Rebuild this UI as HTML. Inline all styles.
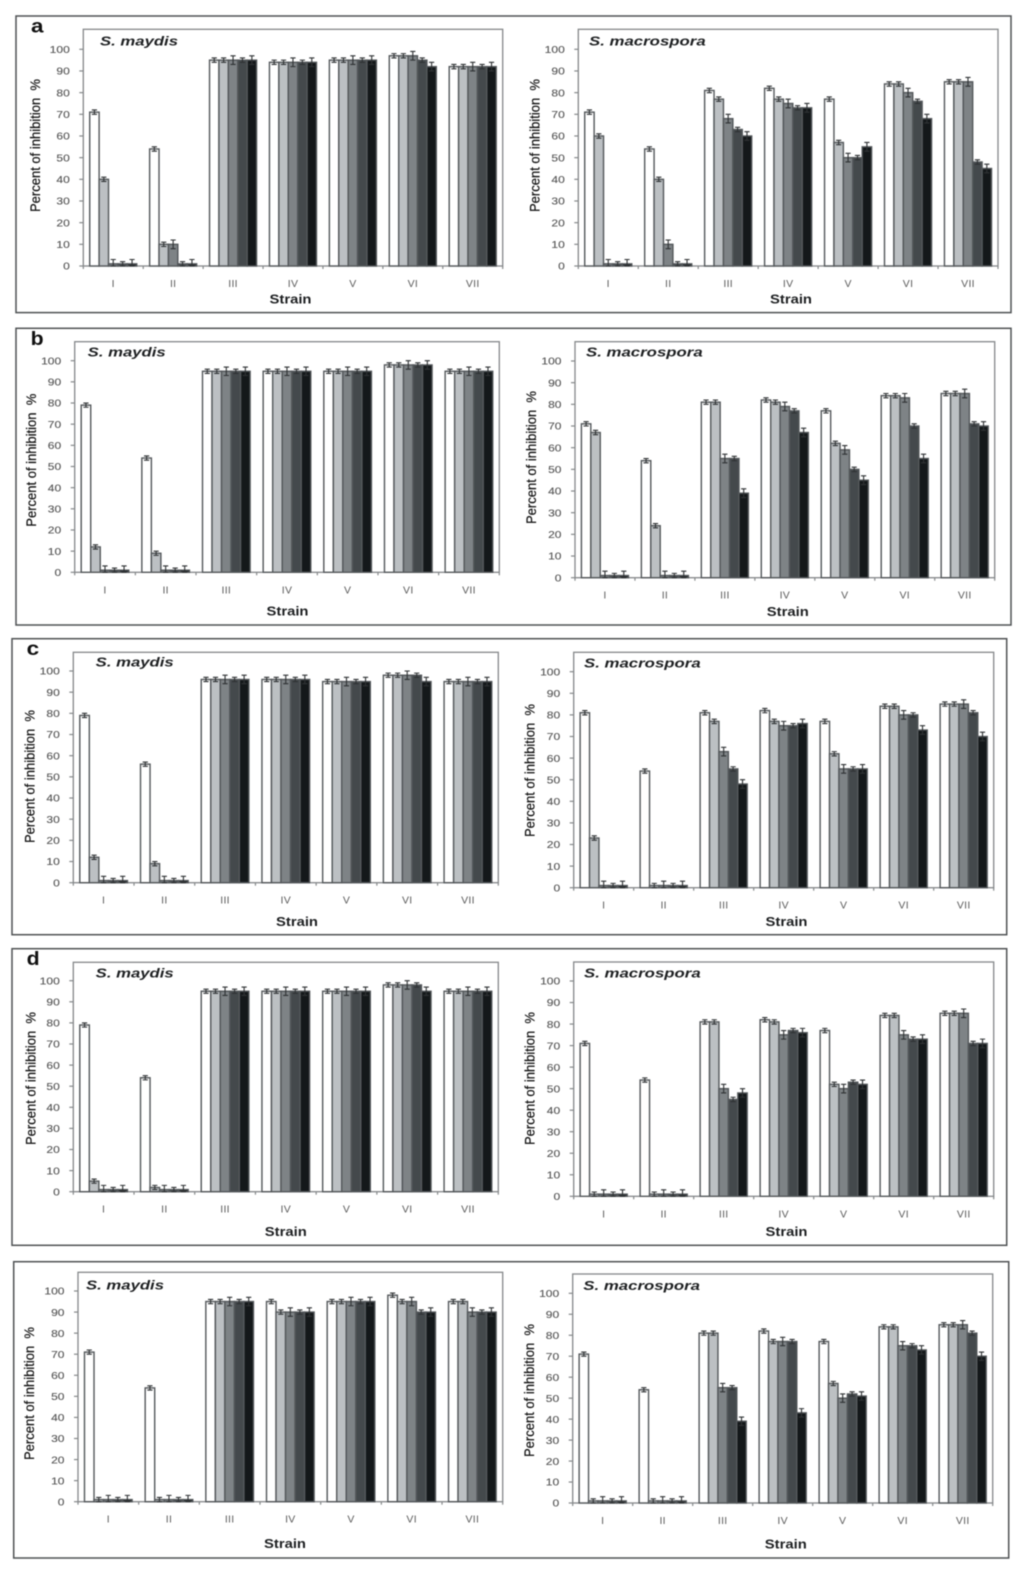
<!DOCTYPE html>
<html lang="en">
<head>
<meta charset="utf-8">
<title>Percent of inhibition by strain</title>
<style>
html,body{margin:0;padding:0;background:#fff}
#figure{display:block;width:1024px;height:1571px;filter:blur(.45px);font-family:"Liberation Sans",sans-serif}
.frame{fill:#fff;stroke:#4f5254;stroke-width:1.5}
.plot{fill:#fff;stroke:#85888a;stroke-width:1.3}
.letter{font-size:19px;font-weight:bold;fill:#111}
.title{font-size:13px;font-weight:bold;font-style:italic;fill:#1e2022}
.ytitle{font-size:14px;fill:#111;stroke:#111;stroke-width:.2;white-space:pre}
.xtitle{font-size:12.5px;font-weight:bold;fill:#1e2022;text-anchor:middle}
.ytick{font-size:10.5px;fill:#555;stroke:#555;stroke-width:.12;text-anchor:end}
.xtick{font-size:10.5px;fill:#5c5c5c;text-anchor:middle;letter-spacing:.3px}
.tickmark{stroke:#85888a;stroke-width:1.2}
.bar{stroke:#54585b;stroke-width:1.4}
.err{stroke:#2f3234;stroke-width:1.1;fill:none}
</style>
</head>
<body>
<svg id="figure" xmlns="http://www.w3.org/2000/svg" width="1024" height="1571" viewBox="0 0 1024 1571">

<g>
  <rect class="frame" x="16" y="16" width="995" height="296.6"/>
  <text class="letter" x="31" y="32.7" textLength="12.5" lengthAdjust="spacingAndGlyphs">a</text>
  <g>
    <rect class="plot" x="83.3" y="29.3" width="419.4" height="236.7"/>
    <g id="marks-a-maydis"></g>
    <text class="title" x="100" y="45.3" textLength="78" lengthAdjust="spacingAndGlyphs">S. maydis</text>
    <text class="ytitle" transform="translate(40,212) rotate(-90)" textLength="133" lengthAdjust="spacingAndGlyphs">Percent of inhibition  %</text>
    <text class="xtitle" x="290.5" y="303.7" textLength="42" lengthAdjust="spacingAndGlyphs">Strain</text>
  </g>
  <g>
    <rect class="plot" x="578.3" y="29.3" width="419.7" height="236.7"/>
    <g id="marks-a-macrospora"></g>
    <text class="title" x="589" y="45.3" textLength="116.7" lengthAdjust="spacingAndGlyphs">S. macrospora</text>
    <text class="ytitle" transform="translate(539.3,212) rotate(-90)" textLength="133" lengthAdjust="spacingAndGlyphs">Percent of inhibition  %</text>
    <text class="xtitle" x="791" y="303.7" textLength="42" lengthAdjust="spacingAndGlyphs">Strain</text>
  </g>
</g>

<g>
  <rect class="frame" x="16" y="328.3" width="995" height="296.7"/>
  <text class="letter" x="30.7" y="345" textLength="13" lengthAdjust="spacingAndGlyphs">b</text>
  <g>
    <rect class="plot" x="74.7" y="341.7" width="424.6" height="230.6"/>
    <g id="marks-b-maydis"></g>
    <text class="title" x="87.7" y="356.7" textLength="78" lengthAdjust="spacingAndGlyphs">S. maydis</text>
    <text class="ytitle" transform="translate(36,526.7) rotate(-90)" textLength="133" lengthAdjust="spacingAndGlyphs">Percent of inhibition  %</text>
    <text class="xtitle" x="287.5" y="615.3" textLength="42" lengthAdjust="spacingAndGlyphs">Strain</text>
  </g>
  <g>
    <rect class="plot" x="575" y="341.7" width="419.7" height="236"/>
    <g id="marks-b-macrospora"></g>
    <text class="title" x="586" y="356.7" textLength="116.7" lengthAdjust="spacingAndGlyphs">S. macrospora</text>
    <text class="ytitle" transform="translate(536,524) rotate(-90)" textLength="133" lengthAdjust="spacingAndGlyphs">Percent of inhibition  %</text>
    <text class="xtitle" x="787.8" y="616" textLength="42" lengthAdjust="spacingAndGlyphs">Strain</text>
  </g>
</g>

<g>
  <rect class="frame" x="12" y="638.7" width="994.7" height="296"/>
  <text class="letter" x="26.7" y="655" textLength="12.5" lengthAdjust="spacingAndGlyphs">c</text>
  <g>
    <rect class="plot" x="73.3" y="652.3" width="425" height="230.4"/>
    <g id="marks-c-maydis"></g>
    <text class="title" x="95.7" y="666.7" textLength="78" lengthAdjust="spacingAndGlyphs">S. maydis</text>
    <text class="ytitle" transform="translate(34.5,843) rotate(-90)" textLength="133" lengthAdjust="spacingAndGlyphs">Percent of inhibition  %</text>
    <text class="xtitle" x="297" y="926" textLength="42" lengthAdjust="spacingAndGlyphs">Strain</text>
  </g>
  <g>
    <rect class="plot" x="573.7" y="652.3" width="420" height="235.4"/>
    <g id="marks-c-macrospora"></g>
    <text class="title" x="584" y="667.7" textLength="116.7" lengthAdjust="spacingAndGlyphs">S. macrospora</text>
    <text class="ytitle" transform="translate(534.5,837) rotate(-90)" textLength="133" lengthAdjust="spacingAndGlyphs">Percent of inhibition  %</text>
    <text class="xtitle" x="786.5" y="926" textLength="42" lengthAdjust="spacingAndGlyphs">Strain</text>
  </g>
</g>

<g>
  <rect class="frame" x="12" y="948.7" width="994.7" height="296.6"/>
  <text class="letter" x="26.7" y="965" textLength="13" lengthAdjust="spacingAndGlyphs">d</text>
  <g>
    <rect class="plot" x="73.3" y="962.3" width="425" height="229.4"/>
    <g id="marks-d-maydis"></g>
    <text class="title" x="95.7" y="977.7" textLength="78" lengthAdjust="spacingAndGlyphs">S. maydis</text>
    <text class="ytitle" transform="translate(35.5,1145) rotate(-90)" textLength="133" lengthAdjust="spacingAndGlyphs">Percent of inhibition  %</text>
    <text class="xtitle" x="285.8" y="1236" textLength="42" lengthAdjust="spacingAndGlyphs">Strain</text>
  </g>
  <g>
    <rect class="plot" x="573.7" y="962" width="420" height="234.3"/>
    <g id="marks-d-macrospora"></g>
    <text class="title" x="584" y="977.7" textLength="116.7" lengthAdjust="spacingAndGlyphs">S. macrospora</text>
    <text class="ytitle" transform="translate(534.5,1145) rotate(-90)" textLength="133" lengthAdjust="spacingAndGlyphs">Percent of inhibition  %</text>
    <text class="xtitle" x="786.5" y="1236" textLength="42" lengthAdjust="spacingAndGlyphs">Strain</text>
  </g>
</g>

<g>
  <rect class="frame" x="13.7" y="1261.7" width="995" height="296.3"/>
  <g>
    <rect class="plot" x="78" y="1272.3" width="424.7" height="229.4"/>
    <g id="marks-e-maydis"></g>
    <text class="title" x="86" y="1289.7" textLength="78" lengthAdjust="spacingAndGlyphs">S. maydis</text>
    <text class="ytitle" transform="translate(34,1460) rotate(-90)" textLength="133" lengthAdjust="spacingAndGlyphs">Percent of inhibition  %</text>
    <text class="xtitle" x="285" y="1548" textLength="42" lengthAdjust="spacingAndGlyphs">Strain</text>
  </g>
  <g>
    <rect class="plot" x="572.7" y="1274" width="420" height="229"/>
    <g id="marks-e-macrospora"></g>
    <text class="title" x="583.3" y="1290" textLength="116.7" lengthAdjust="spacingAndGlyphs">S. macrospora</text>
    <text class="ytitle" transform="translate(534,1457) rotate(-90)" textLength="133" lengthAdjust="spacingAndGlyphs">Percent of inhibition  %</text>
    <text class="xtitle" x="785.8" y="1548.7" textLength="42" lengthAdjust="spacingAndGlyphs">Strain</text>
  </g>
</g>
</svg>

<script>
// Shared labels
const strains = ['I', 'II', 'III', 'IV', 'V', 'VI', 'VII'];
const yTicks = [0, 10, 20, 30, 40, 50, 60, 70, 80, 90, 100];

// Error (+/-) of each of the five series, in percent
const seriesErrors = [1, 1, 2, 1, 2];

// Values: one row per strain, five series per row
const aMaydis = [[71,40,1,1,1],[54,10,10,1,1],[95,95,95,95,95],[94,94,94,94,94],[95,95,95,95,95],[97,97,97,95,92],[92,92,92,92,92]];
const aMacrospora = [[71,60,1,1,1],[54,40,10,1,1],[81,77,68,63,60],[82,77,75,73,73],[77,57,50,50,55],[84,84,80,76,68],[85,85,85,48,45]];
const bMaydis = [[79,12,1,1,1],[54,9,1,1,1],[95,95,95,95,95],[95,95,95,95,95],[95,95,95,95,95],[98,98,98,98,98],[95,95,95,95,95]];
const bMacrospora = [[71,67,1,1,1],[54,24,1,1,1],[81,81,55,55,39],[82,81,79,77,67],[77,62,59,50,45],[84,84,83,70,55],[85,85,85,71,70]];
const cMaydis = [[79,12,1,1,1],[56,9,1,1,1],[96,96,96,96,96],[96,96,96,96,96],[95,95,95,95,95],[98,98,98,98,95],[95,95,95,95,95]];
const cMacrospora = [[81,23,1,1,1],[54,1,1,1,1],[81,77,63,55,48],[82,77,75,75,76],[77,62,55,55,55],[84,84,80,80,73],[85,85,85,81,70]];
const dMaydis = [[79,5,1,1,1],[54,2,1,1,1],[95,95,95,95,95],[95,95,95,95,95],[95,95,95,95,95],[98,98,98,98,95],[95,95,95,95,95]];
const dMacrospora = [[71,1,1,1,1],[54,1,1,1,1],[81,81,50,45,48],[82,81,75,77,76],[77,52,50,53,52],[84,84,75,73,73],[85,85,85,71,71]];
const eMaydis = [[71,1,1,1,1],[54,1,1,1,1],[95,95,95,95,95],[95,90,90,90,90],[95,95,95,95,95],[98,95,95,90,90],[95,95,90,90,90]];
const eMacrospora = [[71,1,1,1,1],[54,1,1,1,1],[81,81,55,55,39],[82,77,77,77,43],[77,57,50,52,51],[84,84,75,75,73],[85,85,85,81,70]];

// Series fills
const seriesFills = ['#ffffff', '#bcc0c3', '#7e8386', '#44494c', '#14181a'];

// Plot geometry of each chart (layout only)
const layouts = [
  {id: 'marks-a-maydis', values: aMaydis, left: 83.3, right: 502.7, y0: 266, y100: 49.3},
  {id: 'marks-a-macrospora', values: aMacrospora, left: 578.3, right: 998, y0: 266, y100: 49.3},
  {id: 'marks-b-maydis', values: bMaydis, left: 74.7, right: 499.3, y0: 572.3, y100: 360.7},
  {id: 'marks-b-macrospora', values: bMacrospora, left: 575, right: 994.7, y0: 577.7, y100: 361},
  {id: 'marks-c-maydis', values: cMaydis, left: 73.3, right: 498.3, y0: 882.7, y100: 671},
  {id: 'marks-c-macrospora', values: cMacrospora, left: 573.7, right: 993.7, y0: 887.7, y100: 671.7},
  {id: 'marks-d-maydis', values: dMaydis, left: 73.3, right: 498.3, y0: 1191.7, y100: 980.7},
  {id: 'marks-d-macrospora', values: dMacrospora, left: 573.7, right: 993.7, y0: 1196.3, y100: 981},
  {id: 'marks-e-maydis', values: eMaydis, left: 78, right: 502.7, y0: 1501.7, y100: 1291},
  {id: 'marks-e-macrospora', values: eMacrospora, left: 572.7, right: 992.7, y0: 1503, y100: 1293.3}
];

const NS = 'http://www.w3.org/2000/svg';

function make(tag, parent, attrs) {
  const node = document.createElementNS(NS, tag);
  for (const key in attrs) node.setAttribute(key, attrs[key]);
  parent.appendChild(node);
  return node;
}

function drawChart(cfg) {
  const root = document.getElementById(cfg.id);
  const catW = (cfg.right - cfg.left) / strains.length;
  const barW = catW * 0.157;
  const pad = catW * 0.107;
  const yScale = function (v) { return cfg.y0 - (v / 100) * (cfg.y0 - cfg.y100); };
  const xScale = function (cat, series) { return cfg.left + catW * cat + pad + barW * series; };

  // y axis ticks and labels
  yTicks.forEach(function (t) {
    const mark = make('line', root, {class: 'tickmark', x1: cfg.left - 4, x2: cfg.left, y1: yScale(t), y2: yScale(t)});
    
    
    const label = make('text', root, {class: 'ytick', x: cfg.left - 13.5, y: yScale(t) + 3.7, textLength: String(t).length * 6.7, lengthAdjust: 'spacingAndGlyphs'});
    
    
    label.textContent = t;
  });

  // x axis boundary ticks
  for (let i = 0; i <= strains.length; i++) {
    const x = cfg.left + catW * i;
    const mark = make('line', root, {class: 'tickmark', x1: x, x2: x, y1: cfg.y0, y2: cfg.y0 + 3});
    
    
  }

  // bars, error bars and strain labels
  cfg.values.forEach(function (row, c) {
    const label = make('text', root, {class: 'xtick', x: cfg.left + catW * (c + 0.5), y: cfg.y0 + 21});
    
    
    label.textContent = strains[c];

    row.forEach(function (v, s) {
      const bar = make('rect', root, {class: 'bar', x: xScale(c, s), y: yScale(v), width: barW, height: cfg.y0 - yScale(v), fill: seriesFills[s]});
      
      
    });

    row.forEach(function (v, s) {
      const cx = xScale(c, s) + barW / 2;
      const hi = yScale(v + seriesErrors[s]);
      const lo = yScale(Math.max(0, v - seriesErrors[s]));
      const d = 'M' + (cx - 2.6) + ' ' + hi + 'H' + (cx + 2.6) + 'M' + cx + ' ' + hi + 'V' + lo + 'M' + (cx - 2.6) + ' ' + lo + 'H' + (cx + 2.6);
      const err = make('path', root, {class: 'err', d: d});
      
      
    });
  });
}

layouts.forEach(drawChart);
</script>
</body>
</html>
